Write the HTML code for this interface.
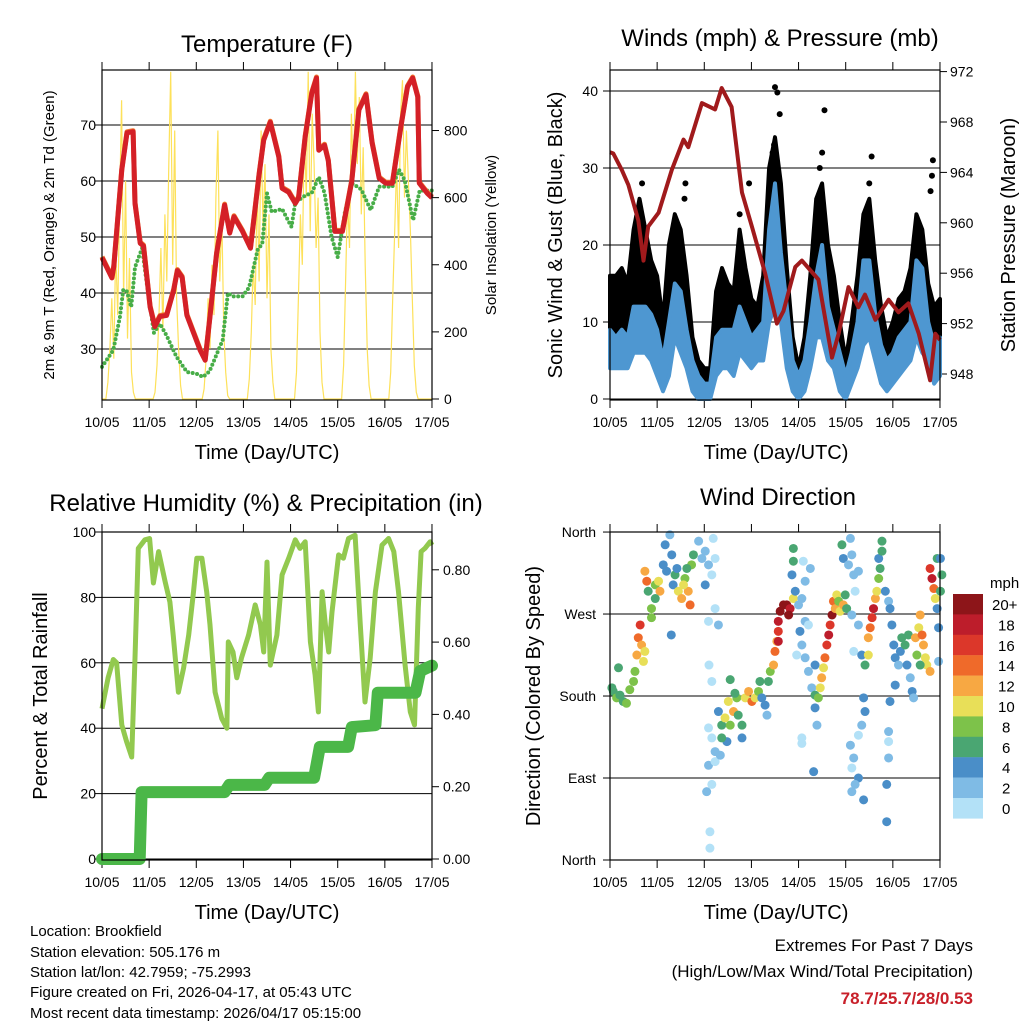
<!DOCTYPE html>
<html><head><meta charset="utf-8"><style>
html,body{margin:0;padding:0;background:#fff;}
svg{display:block;font-family:"Liberation Sans",Arial,sans-serif;}
</style></head><body>
<svg id="root" width="1024" height="1024" viewBox="0 0 1024 1024" xmlns="http://www.w3.org/2000/svg">
<rect x="0" y="0" width="1024" height="1024" fill="#fff"/>
<text x="267" y="52" font-size="24" text-anchor="middle">Temperature (F)</text>
<text x="780" y="46" font-size="24" text-anchor="middle">Winds (mph) &amp; Pressure (mb)</text>
<text x="266" y="511" font-size="24" text-anchor="middle">Relative Humidity (%) &amp; Precipitation (in)</text>
<text x="778" y="505" font-size="24" text-anchor="middle">Wind Direction</text>
<text x="267" y="459" font-size="20" text-anchor="middle">Time (Day/UTC)</text>
<text x="776" y="459" font-size="20" text-anchor="middle">Time (Day/UTC)</text>
<text x="267" y="919" font-size="20" text-anchor="middle">Time (Day/UTC)</text>
<text x="776" y="919" font-size="20" text-anchor="middle">Time (Day/UTC)</text>
<text transform="translate(54,235) rotate(-90)" font-size="15" text-anchor="middle">2m &amp; 9m T (Red, Orange) &amp; 2m Td (Green)</text>
<text transform="translate(496,235) rotate(-90)" font-size="15" text-anchor="middle">Solar Insolation (Yellow)</text>
<text transform="translate(562,235) rotate(-90)" font-size="20" text-anchor="middle">Sonic Wind &amp; Gust (Blue, Black)</text>
<text transform="translate(1015,235) rotate(-90)" font-size="20" text-anchor="middle">Station Pressure (Maroon)</text>
<text transform="translate(47,696) rotate(-90)" font-size="20" text-anchor="middle">Percent &amp; Total Rainfall</text>
<text transform="translate(540,696) rotate(-90)" font-size="20" text-anchor="middle">Direction (Colored By Speed)</text>
<g font-size="15">
<text x="30" y="936">Location: Brookfield</text>
<text x="30" y="957">Station elevation: 505.176 m</text>
<text x="30" y="977">Station lat/lon: 42.7959; -75.2993</text>
<text x="30" y="997">Figure created on Fri, 2026-04-17, at 05:43 UTC</text>
<text x="30" y="1018">Most recent data timestamp: 2026/04/17 05:15:00</text>
</g>
<text x="973" y="951" font-size="17" text-anchor="end">Extremes For Past 7 Days</text>
<text x="973" y="977" font-size="17" text-anchor="end">(High/Low/Max Wind/Total Precipitation)</text>
<text x="973" y="1004" font-size="17" font-weight="bold" fill="#c8202a" text-anchor="end">78.7/25.7/28/0.53</text>
<text x="990" y="588" font-size="15">mph</text>
</svg>
<script>
// ---------- data ----------
const dayLabels = ["10/05","11/05","12/05","13/05","14/05","15/05","16/05","17/05"];
const tempTicks = [30,40,50,60,70];
const solarTicks = [0,200,400,600,800];
const windTicks = [0,10,20,30,40];
const presTicks = [948,952,956,960,964,968,972];
const rhTicks = [0,20,40,60,80,100];
const rainTicks = ["0.00","0.20","0.40","0.60","0.80"];
const dirTickLabels = ["North","East","South","West","North"];
const speedBins = ["20+","18","16","14","12","10","8","6","4","2","0"];
const speedColors = ["#b3e1f7","#7fbbe5","#4a8ec8","#4aa672","#7dc24a","#e8df58","#f7a843","#ef6a2a","#dc372a","#bd1d2b","#8d1519"];

const tempT = [0,0.21,0.25,0.42,0.53,0.66,0.7,0.81,0.88,1.02,1.12,1.23,1.37,1.52,1.6,1.7,1.8,1.94,2.08,2.19,2.29,2.43,2.6,2.71,2.8,2.98,3.15,3.33,3.43,3.57,3.75,3.82,3.96,4.1,4.17,4.31,4.45,4.55,4.6,4.72,4.8,4.94,5.1,5.3,5.45,5.6,5.73,5.88,6.02,6.16,6.34,6.48,6.59,6.7,6.73,6.9,7.0];
const tempV = [46.3,42.7,44.7,62,68.6,68.8,56,48.9,48.4,37.5,34,35.8,36,40.5,44,42.8,36,32.9,29.8,28,35.8,47,55.7,50.7,53.6,51,48,61,67.3,70.5,64.3,58.7,58,56,57,67.9,75.7,78.4,65.5,66.4,63.6,51,51,60,72.7,75.4,66.8,60.5,59.6,59.6,69.7,76.8,78.4,75,59.6,57.8,57];
const dewT = [0,0.24,0.38,0.45,0.52,0.62,0.7,0.85,0.96,1.1,1.23,1.37,1.58,1.8,2.0,2.14,2.28,2.56,2.67,2.77,2.98,3.12,3.3,3.4,3.5,3.6,3.82,4.02,4.1,4.31,4.45,4.6,4.72,4.87,5.0,5.15,5.3,5.5,5.7,5.88,6.16,6.3,6.42,6.6,6.74,7.0];
const dewV = [26.8,29.8,35.7,40.5,40.5,37.5,44.6,48,41,32.9,34.5,32.4,28.6,25.9,25.6,25,26,31.6,40,39.4,39.4,41,47.7,48.8,57.8,54.5,55,51.8,56.2,57.4,57.9,60.7,57.9,50,46.4,54.3,59.6,58.5,54.8,59,59,62,60.2,53,58.3,58.3];
const solarHourly = [
0,0,0,50,150,300,120,450,250,600,890,300,650,180,420,80,20,0,0,0,0,0,0,0,
0,0,0,20,100,250,450,200,550,350,700,975,400,800,300,150,40,0,0,0,0,0,0,0,
0,0,0,0,30,120,300,150,400,250,600,800,350,550,200,80,10,0,0,0,0,0,0,0,
0,0,0,60,200,400,280,650,350,800,500,700,300,550,150,50,0,0,0,0,0,0,0,0,
0,0,0,80,300,550,400,800,600,975,500,850,700,450,600,200,50,0,0,0,0,0,0,0,
0,0,0,100,350,600,450,850,650,975,700,900,550,750,400,150,40,0,0,0,0,0,0,0,
0,0,0,80,300,500,700,450,850,950,600,800,650,500,300,100,20,0,0,0,0,0,0,0,0];

const gustLo = [9,8,9,8,10,12,10,8,6,3,8,14,12,8,3,2,1,1,8,9,8,6,12,9,7,8,8,16,18,16,7,2,1,3,8,14,16,10,9,3,1,4,8,13,14,10,5,3,5,7,8,9,12,12,8,5,6];
const gustHi = [16,16,17,15,22,26,22,18,16,10,20,24,22,16,8,5,4,4,14,17,15,14,22,17,13,12,16,30,34,28,17,8,4,8,16,26,28,20,16,10,5,10,16,24,26,18,12,8,10,13,14,17,24,22,15,12,13];
const windLo = [4,4,4,4,6,6,6,5,3,1,3,8,6,4,1,0,0,0,3,4,4,3,6,5,4,5,5,10,12,10,4,1,0,1,4,8,8,5,4,1,0,2,4,7,8,5,2,1,2,3,4,5,8,6,5,2,3];
const windHi = [9,8,9,8,12,12,12,11,9,5,10,15,14,9,5,3,2,2,8,9,9,9,12,10,8,9,10,22,28,19,12,5,3,5,10,16,20,12,9,6,3,6,10,18,18,11,7,5,6,8,9,10,18,17,10,7,8];
const gustPeakT = [3.5,3.55,3.6,4.55,3.48,5.55,6.85,6.83,1.6,2.95,3.52,1.58,0.62,0.68,1.45,3.45,4.45,4.5,5.5,6.8,2.75];
const gustPeakV = [40.5,39.8,37,37.5,33,31.5,31,29,28,28,30,26,25,28,22,32,30,32,28,27,24];
const presT = [0,0.07,0.25,0.39,0.6,0.71,0.81,1.03,1.31,1.56,1.66,1.95,2.23,2.37,2.58,2.8,3.01,3.29,3.54,3.68,3.93,4.07,4.42,4.71,4.85,5.06,5.27,5.41,5.63,5.91,6.12,6.33,6.55,6.79,6.9,7.0];
const presV = [965.6,965.5,964.2,963,960.2,957,959.7,960.8,964.2,966.6,966,969.5,969,970.7,969.2,962.4,959.7,956,952,953,956.5,957,955.5,949.3,951.2,954.9,953.3,954.3,952.3,953.9,952.9,953.6,951.2,947.5,951.2,950.7];

const rhT = [0,0.13,0.24,0.31,0.42,0.52,0.63,0.7,0.77,0.91,1.01,1.09,1.2,1.34,1.44,1.51,1.62,1.73,1.84,1.94,2.01,2.12,2.22,2.29,2.4,2.54,2.65,2.68,2.78,2.86,2.96,3.11,3.25,3.36,3.43,3.5,3.57,3.71,3.82,3.96,4.1,4.2,4.31,4.42,4.52,4.59,4.67,4.74,4.81,4.88,5.02,5.12,5.23,5.37,5.48,5.58,5.69,5.8,5.94,6.08,6.19,6.29,6.43,6.54,6.63,6.71,6.77,6.85,6.96,7.0];
const rhV = [46,55.4,61,60,41,36,31.2,61.5,95,97.6,98,84.4,94,84.7,78.6,68.5,51,58.4,68.5,81.7,92,92,81.7,71.6,51,43,40,66.4,63.3,55.4,61.5,68.5,77.7,71.6,63.3,90.8,59.3,68.5,86.9,92,97.6,95,97,66.4,56.3,45,81.7,71.6,63.3,75.5,93,92,98,99,71.6,48,61.5,81.7,96,98,94,81.7,59.3,45,41,76.8,94,95,97,96];
const rainT = [0,0.8,0.84,2.6,2.7,3.45,3.55,4.5,4.55,4.62,5.22,5.3,5.8,5.85,6.65,6.75,7.0];
const rainV = [0,0,0.185,0.185,0.205,0.205,0.225,0.225,0.26,0.31,0.31,0.365,0.37,0.46,0.46,0.52,0.535];

const dirT = [0.04,0.07,0.14,0.21,0.28,0.35,0.42,0.18,0.5,0.53,0.57,0.6,0.64,0.67,0.71,0.74,0.88,0.88,0.81,0.96,0.74,0.78,1.03,1.06,0.96,
1.13,1.17,1.2,1.27,1.31,1.38,1.34,1.42,1.45,1.52,1.59,1.66,1.7,1.73,1.77,1.63,1.56,
1.88,1.95,2.02,2.09,2.16,2.19,2.23,2.02,2.23,2.3,2.09,2.16,2.1,1.3,
2.09,2.16,2.23,2.09,2.16,2.05,2.12,2.12,2.23,
2.3,2.37,2.44,2.51,2.55,2.62,2.69,2.72,2.8,2.8,2.55,2.48,2.37,2.34,2.65,
2.87,2.94,3.01,3.08,3.15,3.22,3.29,3.33,3.18,3.36,3.4,3.47,3.5,3.54,
3.57,3.57,3.61,3.68,3.75,3.82,3.79,3.57,3.89,3.93,3.89,3.89,3.86,
4.0,4.07,4.14,4.21,4.1,4.14,4.03,4.07,4.14,4.21,4.28,4.35,4.35,4.35,4.39,4.32,4.07,4.07,4.25,3.96,
4.42,4.46,4.49,4.53,4.56,4.6,4.64,4.67,4.71,4.74,4.78,4.81,4.85,4.88,4.95,4.99,5.02,4.95,4.92,5.06,5.1,5.13,5.17,5.2,5.27,5.13,5.27,5.17,5.34,5.41,5.38,5.41,5.34,5.27,5.1,5.17,5.13,5.13,5.38,5.27,5.2,
5.48,5.52,5.56,5.59,5.63,5.66,5.7,5.73,5.7,5.77,5.77,5.48,5.84,
5.91,5.94,5.98,6.02,6.05,6.12,6.16,6.19,6.26,6.33,6.3,6.37,6.41,6.44,6.05,5.94,5.91,5.91,5.87,5.87,5.91,
6.48,6.55,6.58,6.62,6.65,6.69,6.72,6.79,6.51,6.58,6.97,
6.79,6.83,6.87,6.9,6.94,6.97,7.01,7.04,6.94,7.01];
const dirD = [189,185,178,181,174,172,187,211,196,207,225,244,258,236,218,229,266,276,295,302,317,306,306,295,287,
324,346,317,357,335,313,302,320,295,287,309,295,280,324,335,320,302,
350,331,339,324,313,353,331,302,276,258,262,196,214,247,
145,134,119,104,83,75,31,13,108,
163,148,156,174,148,163,178,159,148,134,198,130,134,115,183,
178,185,174,178,185,178,170,159,196,196,207,214,229,240,
251,262,273,280,280,276,269,240,287,295,328,342,313,
280,287,262,258,328,306,251,236,222,207,189,214,181,167,148,97,134,128,320,225,
178,189,200,211,222,236,247,258,269,284,276,291,284,273,280,291,276,331,346,324,353,335,313,295,317,269,258,229,225,214,178,163,148,137,126,112,101,75,66,90,83,
244,255,266,276,287,295,309,320,331,350,339,225,295,
284,276,258,236,222,214,229,244,236,247,214,200,185,178,192,174,141,112,83,42,130,
244,255,269,247,236,222,214,207,225,214,218,
320,309,298,287,276,255,295,313,331,331];
const dirS = [7,7,8,7,6,8,8,6,8,9,12,14,16,13,11,10,8,8,7,8,12,14,10,12,6,
4,4,4,3,4,6,5,5,10,12,8,12,14,9,7,6,10,
2,2,3,2,1,1,1,4,1,2,1,1,1,4,
1,1,2,2,1,2,1,1,1,
4,7,10,10,9,12,8,7,6,5,7,5,6,3,6,
10,12,14,10,8,5,4,3,6,7,8,12,14,12,
16,18,20,20,20,18,20,18,10,4,6,6,4,
3,2,2,1,1,2,4,3,2,3,2,4,6,5,2,4,1,1,2,1,
8,10,12,10,14,16,18,16,20,14,12,10,8,11,12,6,7,5,6,3,2,3,2,1,2,2,2,1,4,6,4,5,2,1,2,2,1,2,4,4,3,
12,14,16,18,12,10,8,6,5,6,7,10,4,
2,4,4,5,4,3,4,6,7,6,4,3,4,3,4,4,2,2,4,4,1,
12,11,13,14,12,11,10,12,8,6,3,
16,18,14,10,4,4,6,6,7,4];

// ---------- helpers ----------
const NS = "http://www.w3.org/2000/svg";
const root = document.getElementById("root");
function el(tag, attrs, parent){ const e=document.createElementNS(NS,tag); for(const k in attrs) e.setAttribute(k,attrs[k]); (parent||root).appendChild(e); return e; }
const DAYW = 47.14;
function pathFrom(xs, ys){ return xs.map((x,i)=>(i?"L":"M")+x.toFixed(1)+","+ys[i].toFixed(1)).join(""); }

function axesFrame(px, py0, py1, prefix){
  const g = el("g",{});
  
  
  for(let i=0;i<8;i++){
    const x = px + i*DAYW;
    const t1 = el("line",{x1:x,y1:py0,x2:x,y2:py0-8,stroke:"#000","stroke-width":1},g);
    
    
    const t2 = el("line",{x1:x,y1:py1,x2:x,y2:py1+8,stroke:"#000","stroke-width":1},g);
    
    
    const lb = el("text",{x:x,y:py1+27,"font-size":14,"text-anchor":"middle"},g);
    lb.textContent = dayLabels[i];
    
    
  }
  return g;
}
function hgrid(px, y, label, lx, anchor, prefix, grid){
  if(grid){
    const ln = el("line",{x1:px,y1:y,x2:px+330,y2:y,stroke:"#000","stroke-width":1});
    
    
  }
  const tk = el("line",{x1:anchor==="end"?px-7:px+330,y1:y,x2:anchor==="end"?px:px+337,y2:y,stroke:"#000"});
  
  
  const t = el("text",{x:lx,y:y+5,"font-size":14,"text-anchor":anchor});
  t.textContent = label;
  
  
}
function box(px,py0,py1,prefix){
  const r = el("rect",{x:px,y:py0,width:330,height:py1-py0,fill:"none",stroke:"#000","stroke-width":1.2});
  
  
}

// ---------- Panel 1: temperature ----------
const x1 = d => 102 + d*DAYW;
const ty = T => 349 - (T-30)*5.6;
const sy = S => 399 - S*0.3356;
axesFrame(102,70,400,"temp");
tempTicks.forEach(v=>hgrid(102,ty(v),String(v),96,"end","temp",true));
solarTicks.forEach(v=>hgrid(102,sy(v),String(v),444,"start","solar",false));
const solarPath = el("path",{d:pathFrom(solarHourly.map((v,i)=>x1(i/24)), solarHourly.map(sy)),fill:"none",stroke:"#fde15a","stroke-width":1.2});


const dewPath = el("path",{d:pathFrom(dewT.map(x1), dewV.map(ty)),fill:"none",stroke:"#47ad47","stroke-width":4,"stroke-linecap":"round","stroke-dasharray":"0 4.5"});


const t9Path = el("path",{d:pathFrom(tempT.map(x1), tempV.map(v=>ty(v)-1)),fill:"none",stroke:"#f07a30","stroke-width":5,"stroke-linejoin":"round"});


const tPath = el("path",{d:pathFrom(tempT.map(x1), tempV.map(ty)),fill:"none",stroke:"#d42027","stroke-width":5,"stroke-linejoin":"round"});


box(102,70,400,"temp");

// ---------- Panel 2: winds ----------
const x2 = d => 610 + d*DAYW;
const wy = w => 399 - w*7.7;
const py = p => 374 - (p-948)*12.6;
const wT = gustLo.map((v,i)=>i*0.125);
axesFrame(610,70,400,"wind");
windTicks.forEach(v=>hgrid(610,wy(v),String(v),598,"end","wind",true));
presTicks.forEach(v=>hgrid(610,py(v),String(v),950,"start","pressure",false));
function band(lo,hi,color,name){
  const xs = wT.map(x2);
  const d = pathFrom(xs, hi.map(wy)) + pathFrom(xs.slice().reverse(), lo.map(wy).reverse()).replace("M","L") + "Z";
  const p = el("path",{d:d,fill:color,stroke:color,"stroke-width":4,"stroke-linejoin":"round"});
  
  
}
band(gustLo,gustHi,"#000","gust-band");
band(windLo,windHi,"#4e97d1","wind-band");
gustPeakT.forEach((t,i)=>{
  const c = el("circle",{cx:x2(t),cy:wy(gustPeakV[i]),r:3,fill:"#000"});
  
  
});
const pPath = el("path",{d:pathFrom(presT.map(x2), presV.map(py)),fill:"none",stroke:"#a01a1c","stroke-width":4,"stroke-linejoin":"round"});


box(610,70,400,"wind");

// ---------- Panel 3: RH & rain ----------
const ry = v => 859 - v*3.27;
const qy = v => 859 - v*361.5;
axesFrame(102,532,860,"rh");
rhTicks.forEach(v=>hgrid(102,ry(v),String(v),96,"end","rh",true));
rainTicks.forEach(v=>hgrid(102,qy(parseFloat(v)),v,443,"start","rain",false));
const rhPath = el("path",{d:pathFrom(rhT.map(x1), rhV.map(ry)),fill:"none",stroke:"#92c94f","stroke-width":5,"stroke-linejoin":"round"});


const rainPath = el("path",{d:pathFrom(rainT.map(x1), rainV.map(qy)),fill:"none",stroke:"#4bb748","stroke-width":12,"stroke-linejoin":"round","stroke-linecap":"round"});


box(102,532,860,"rh");

// ---------- Panel 4: wind direction ----------
const dy = deg => 860 - deg*0.911;
axesFrame(610,532,860,"dir");
dirTickLabels.forEach((lab,i)=>hgrid(610,dy(i*90),lab,596,"end","dir",true));
function speedColor(s){ return speedColors[Math.min(10,Math.floor(s/2))]; }
dirT.forEach((t,i)=>{
  const c = el("circle",{cx:x2(t),cy:dy(dirD[i]),r:4.5,fill:speedColor(dirS[i])});
  
  
});
box(610,532,860,"dir");

// colorbar
speedBins.forEach((lab,i)=>{
  const y = 594 + i*20.4;
  const r = el("rect",{x:953,y:y,width:30,height:20.6,fill:speedColors[10-i]});
  
  
  const t = el("text",{x:lab.length>2?992:(lab.length>1?998:1002),y:y+16,"font-size":15});
  t.textContent = lab;
  
  
});
</script>
</body></html>
